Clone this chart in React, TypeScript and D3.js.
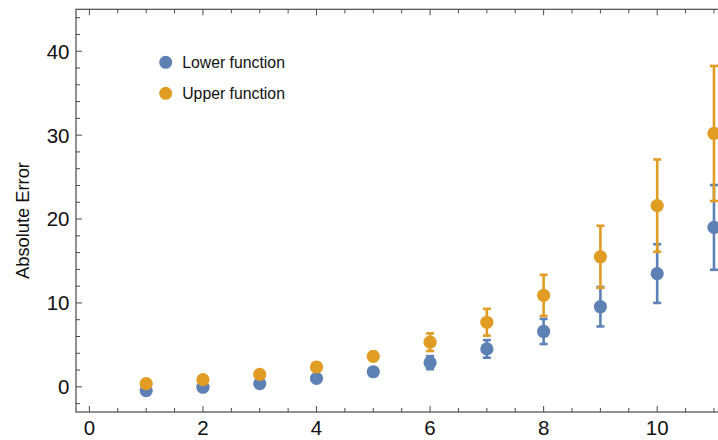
import React, { useEffect, useRef } from 'react';
import * as d3 from 'd3';

const xValues = [1, 2, 3, 4, 5, 6, 7, 8, 9, 10, 11];
const lowerValues = [-0.45, -0.05, 0.38, 1.0, 1.8, 2.88, 4.52, 6.6, 9.55, 13.5, 19.0];
const lowerErrors = [0.05, 0.08, 0.12, 0.2, 0.35, 0.78, 1.05, 1.5, 2.35, 3.5, 5.05];
const upperValues = [0.38, 0.85, 1.48, 2.36, 3.64, 5.32, 7.7, 10.9, 15.5, 21.6, 30.2];
const upperErrors = [0.08, 0.12, 0.2, 0.3, 0.5, 1.05, 1.6, 2.45, 3.7, 5.5, 8.05];
const seriesNames = ['Lower function', 'Upper function'];
const seriesColors = ['#5e81b5', '#e19c24'];
const xTickValues = [0, 2, 4, 6, 8, 10];
const yTickValues = [0, 10, 20, 30, 40];

const width = 718;
const height = 440;

const App = () => {
    const svgRef = useRef(null);

    const margin = { top: 9.3, right: -13, bottom: 28, left: 76 };

    useEffect(() => {
        const svg = d3.select(svgRef.current);
        svg.selectAll('*').remove();

        const xScale = d3.scaleLinear()
            .domain([-0.236, 11.3])
            .range([margin.left, width - margin.right]);

        const yScale = d3.scaleLinear()
            .domain([-3, 45])
            .range([height - margin.bottom, margin.top]);

        const frameColor = '#4a4a4a';
        const x0 = xScale.range()[0];
        const x1 = xScale.range()[1];
        const y0 = yScale.range()[0];
        const y1 = yScale.range()[1];

        // frame
        svg.append('rect')
            .attr('x', x0)
            .attr('y', y1)
            .attr('width', x1 - x0)
            .attr('height', y0 - y1)
            .attr('fill', 'none')
            .attr('stroke', frameColor)
            .attr('stroke-width', 1.2);

        // x ticks (bottom and top, pointing in)
        const xMinor = d3.range(0, 11.5, 0.5);
        xMinor.forEach(v => {
            const major = v % 2 === 0;
            const len = major ? 6 : 4;
            svg.append('line')
                .attr('x1', xScale(v)).attr('x2', xScale(v))
                .attr('y1', y0).attr('y2', y0 - len)
                .attr('stroke', frameColor).attr('stroke-width', 1);
            svg.append('line')
                .attr('x1', xScale(v)).attr('x2', xScale(v))
                .attr('y1', y1).attr('y2', y1 + len)
                .attr('stroke', frameColor).attr('stroke-width', 1);
        });

        const yMinor = d3.range(-2, 45, 2);
        yMinor.forEach(v => {
            const major = v % 10 === 0;
            svg.append('line')
                .attr('x1', x0).attr('x2', x0 + (major ? 6 : 4))
                .attr('y1', yScale(v)).attr('y2', yScale(v))
                .attr('stroke', frameColor).attr('stroke-width', 1);
        });

        svg.selectAll('.x-label')
            .data(xTickValues)
            .enter()
            .append('text')
            .attr('class', 'x-label')
            .attr('x', d => xScale(d))
            .attr('y', 434.5)
            .attr('text-anchor', 'middle')
            .attr('font-family', 'Liberation Sans, Arial, sans-serif')
            .attr('font-size', 20.5)
            .attr('fill', '#111')
            .text(d => d);

        svg.selectAll('.y-label')
            .data(yTickValues)
            .enter()
            .append('text')
            .attr('class', 'y-label')
            .attr('x', 69.5)
            .attr('y', d => yScale(d))
            .attr('dy', '0.36em')
            .attr('text-anchor', 'end')
            .attr('font-family', 'Liberation Sans, Arial, sans-serif')
            .attr('font-size', 20.5)
            .attr('fill', '#111')
            .text(d => d);

        svg.append('text')
            .attr('transform', `translate(28.5, 220.5) rotate(-90)`)
            .attr('text-anchor', 'middle')
            .attr('font-family', 'Liberation Sans, Arial, sans-serif')
            .attr('font-size', 18.3)
            .attr('fill', '#111')
            .text('Absolute Error');

        const series = [
            { values: lowerValues, errors: lowerErrors, color: seriesColors[0] },
            { values: upperValues, errors: upperErrors, color: seriesColors[1] },
        ];

        const plot = svg.append('g');

        series.forEach(s => {
            xValues.forEach((xv, i) => {
                const cx = xScale(xv);
                const top = yScale(s.values[i] + s.errors[i]);
                const bottom = yScale(s.values[i] - s.errors[i]);
                plot.append('line')
                    .attr('x1', cx).attr('x2', cx)
                    .attr('y1', top).attr('y2', bottom)
                    .attr('stroke', s.color).attr('stroke-width', 2.6);
                [top, bottom].forEach(yy => {
                    plot.append('line')
                        .attr('x1', cx - 4).attr('x2', cx + 4)
                        .attr('y1', yy).attr('y2', yy)
                        .attr('stroke', s.color).attr('stroke-width', 2.6);
                });
            });
            plot.selectAll(null)
                .data(xValues)
                .enter()
                .append('circle')
                .attr('cx', d => xScale(d))
                .attr('cy', (d, i) => yScale(s.values[i]))
                .attr('r', 6.6)
                .attr('fill', s.color);
        });

        // legend
        const legend = svg.append('g').attr('transform', 'translate(165.7, 62.3)');
        seriesNames.forEach((name, i) => {
            legend.append('circle')
                .attr('cx', 0)
                .attr('cy', i * 31)
                .attr('r', 6.5)
                .attr('fill', seriesColors[i]);
            legend.append('text')
                .attr('x', 16.5)
                .attr('y', i * 31)
                .attr('dy', '0.36em')
                .attr('font-family', 'Liberation Sans, Arial, sans-serif')
                .attr('font-size', 15.8)
                .attr('fill', '#111')
                .text(name);
        });
    }, []);

    return (
        <svg
            ref={svgRef}
            width={width}
            height={height}
            style={{ position: 'absolute', left: 0, top: 0, background: '#fff' }}
        />
    );
};

export default App;
